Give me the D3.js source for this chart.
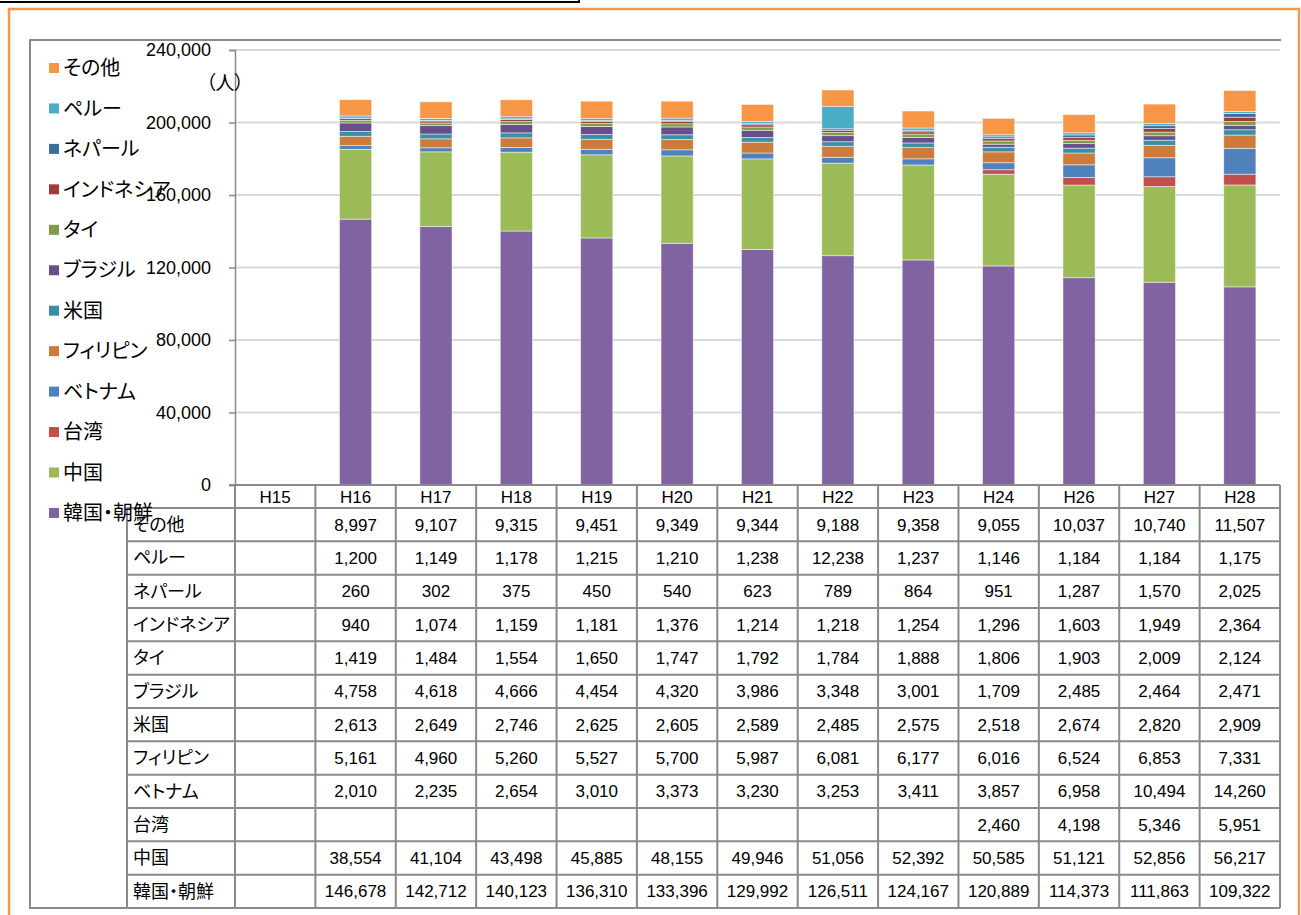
<!DOCTYPE html>
<html>
<head>
<meta charset="utf-8">
<script src="https://cdn.jsdelivr.net/npm/d3@7"></script>
<style>
  html, body { margin: 0; padding: 0; background: #fff; }
  svg { display: block; }
  text { font-family: "Liberation Sans", "Noto Sans CJK JP", sans-serif; fill: #000; }
  .jp { font-feature-settings: "palt"; }
</style>
</head>
<body>
<div id="chart"></div>
<script>
// 年度（H25 は欠測）
const categories = ["H15", "H16", "H17", "H18", "H19", "H20", "H21", "H22", "H23", "H24", "H26", "H27", "H28"];

// 国籍別人数（表の行順：上から）
const seriesNames = ["その他", "ペルー", "ネパール", "インドネシア", "タイ", "ブラジル", "米国", "フィリピン", "ベトナム", "台湾", "中国", "韓国・朝鮮"];

const sonota    = [null, 8997, 9107, 9315, 9451, 9349, 9344, 9188, 9358, 9055, 10037, 10740, 11507];
const peru      = [null, 1200, 1149, 1178, 1215, 1210, 1238, 12238, 1237, 1146, 1184, 1184, 1175];
const nepal     = [null, 260, 302, 375, 450, 540, 623, 789, 864, 951, 1287, 1570, 2025];
const indonesia = [null, 940, 1074, 1159, 1181, 1376, 1214, 1218, 1254, 1296, 1603, 1949, 2364];
const thai      = [null, 1419, 1484, 1554, 1650, 1747, 1792, 1784, 1888, 1806, 1903, 2009, 2124];
const brazil    = [null, 4758, 4618, 4666, 4454, 4320, 3986, 3348, 3001, 1709, 2485, 2464, 2471];
const usa       = [null, 2613, 2649, 2746, 2625, 2605, 2589, 2485, 2575, 2518, 2674, 2820, 2909];
const philippines = [null, 5161, 4960, 5260, 5527, 5700, 5987, 6081, 6177, 6016, 6524, 6853, 7331];
const vietnam   = [null, 2010, 2235, 2654, 3010, 3373, 3230, 3253, 3411, 3857, 6958, 10494, 14260];
const taiwan    = [null, null, null, null, null, null, null, null, null, 2460, 4198, 5346, 5951];
const china     = [null, 38554, 41104, 43498, 45885, 48155, 49946, 51056, 52392, 50585, 51121, 52856, 56217];
const korea     = [null, 146678, 142712, 140123, 136310, 133396, 129992, 126511, 124167, 120889, 114373, 111863, 109322];

const seriesValues = [sonota, peru, nepal, indonesia, thai, brazil, usa, philippines, vietnam, taiwan, china, korea];

const seriesColors = ["#F79646", "#4BACC6", "#3F6A9E", "#9E3D3A", "#7F9C49", "#684F8C", "#3B8EA5", "#CD7B3A", "#4F81BD", "#C0504D", "#9BBB59", "#8064A2"];

const yTicks = [0, 40000, 80000, 120000, 160000, 200000, 240000];
const unitLabel = "（人）";

const W = 1301, H = 915;
const svg = d3.select("#chart").append("svg").attr("width", W).attr("height", H);
svg.append("rect").attr("width", W).attr("height", H).attr("fill", "#fff");

// 外枠
svg.append("rect").attr("x", -5).attr("y", -10).attr("width", 584).attr("height", 12)
  .attr("fill", "none").attr("stroke", "#000").attr("stroke-width", 2);
svg.append("rect").attr("x", 9).attr("y", 9).attr("width", 1290).attr("height", 930)
  .attr("fill", "none").attr("stroke", "#F79646").attr("stroke-width", 2.5);

const plotLeft = 235, plotRight = 1280, plotTop = 50, baseY = 485;
const tableBottom = 908, labelLeft = 127;

// グラフ領域の枠（上・左・下）
svg.append("path")
  .attr("d", `M1281,40 H30 V${tableBottom} H${plotRight}`)
  .attr("fill", "none").attr("stroke", "#8a8a8a").attr("stroke-width", 2);

const x = d3.scaleBand().domain(categories).range([plotLeft, plotRight]).paddingInner(0.6).paddingOuter(0.3);
const y = d3.scaleLinear().domain([0, 240000]).range([baseY, plotTop]);

// 目盛線
svg.append("g").selectAll("line").data(yTicks.filter(d => d > 0)).join("line")
  .attr("x1", plotLeft).attr("x2", plotRight)
  .attr("y1", d => y(d)).attr("y2", d => y(d))
  .attr("stroke", "#d9d9d9").attr("stroke-width", 2);

// 縦軸
const yAxis = d3.axisLeft(y).tickValues(yTicks).tickSize(6).tickPadding(18)
  .tickFormat(d3.format(","));
const gy = svg.append("g").attr("transform", `translate(${plotLeft},0)`).call(yAxis);
gy.select(".domain").attr("stroke", "#8a8a8a").attr("stroke-width", 1.5);
gy.selectAll(".tick line").attr("stroke", "#8a8a8a").attr("stroke-width", 1.5);
gy.selectAll(".tick text").attr("font-size", 18)
  .attr("font-family", "'Liberation Sans', 'Noto Sans CJK JP', sans-serif").attr("fill", "#000");

svg.append("text").attr("class", "jp").attr("x", 206).attr("y", 90)
  .attr("font-size", 19).text(unitLabel);

// 積み上げ棒
const rows = categories.map((c, i) => {
  const r = { cat: c };
  seriesNames.forEach((n, k) => { r[n] = seriesValues[k][i] || 0; });
  return r;
});
const stackKeys = seriesNames.slice().reverse();
const stacked = d3.stack().keys(stackKeys)(rows);
const colorOf = d3.scaleOrdinal().domain(seriesNames).range(seriesColors);

svg.append("g").selectAll("g").data(stacked).join("g")
  .attr("fill", d => colorOf(d.key))
  .selectAll("rect").data(d => d.filter(p => p[1] > p[0])).join("rect")
  .attr("x", d => x(d.data.cat))
  .attr("width", x.bandwidth())
  .attr("y", d => y(d[1]))
  .attr("height", d => y(d[0]) - y(d[1]))
  .attr("stroke", "#ffffff").attr("stroke-opacity", 0.6).attr("stroke-width", 0.8);

// データテーブル
const step = x.step();
const colEdges = categories.map((c, i) => plotLeft + i * step).concat([plotRight]);
const headerBottom = 508;
const rowH = (tableBottom - headerBottom) / seriesNames.length;
const tbl = svg.append("g").attr("stroke", "#8a8a8a").attr("stroke-width", 2);

// 横線
tbl.append("line").attr("x1", plotLeft - 6).attr("x2", plotRight).attr("y1", baseY).attr("y2", baseY);
d3.range(seriesNames.length + 1).forEach(i => {
  const yy = headerBottom + i * rowH;
  tbl.append("line").attr("x1", labelLeft).attr("x2", plotRight).attr("y1", yy).attr("y2", yy);
});
// 縦線
colEdges.forEach(xx => {
  tbl.append("line").attr("x1", xx).attr("x2", xx).attr("y1", baseY).attr("y2", tableBottom);
});
tbl.append("line").attr("x1", labelLeft).attr("x2", labelLeft).attr("y1", headerBottom).attr("y2", tableBottom);

// 見出し
svg.append("g").selectAll("text").data(categories).join("text")
  .attr("x", d => x(d) + x.bandwidth() / 2)
  .attr("y", (baseY + headerBottom) / 2)
  .attr("dy", "0.36em").attr("text-anchor", "middle").attr("font-size", 17)
  .text(d => d);

// 行ラベルと数値
const fmt = d3.format(",");
seriesNames.forEach((name, k) => {
  const cy = headerBottom + (k + 0.5) * rowH;
  svg.append("text").attr("class", "jp").attr("x", labelLeft + 6).attr("y", cy)
    .attr("dy", "0.36em").attr("font-size", 18).text(name);
  svg.append("g").selectAll("text").data(seriesValues[k].map((v, i) => ({ v, c: categories[i] })).filter(d => d.v != null))
    .join("text")
    .attr("x", d => x(d.c) + x.bandwidth() / 2)
    .attr("y", cy).attr("dy", "0.36em").attr("text-anchor", "middle").attr("font-size", 17)
    .text(d => fmt(d.v));
});

// 凡例
const lg = svg.append("g");
seriesNames.forEach((name, k) => {
  const cy = 68 + k * 40.45;
  lg.append("rect").attr("x", 49).attr("y", cy - 5).attr("width", 10).attr("height", 10)
    .attr("fill", seriesColors[k]);
  lg.append("text").attr("class", "jp").attr("x", 63).attr("y", cy).attr("dy", "0.36em")
    .attr("font-size", 20).text(name);
});
</script>
</body>
</html>
